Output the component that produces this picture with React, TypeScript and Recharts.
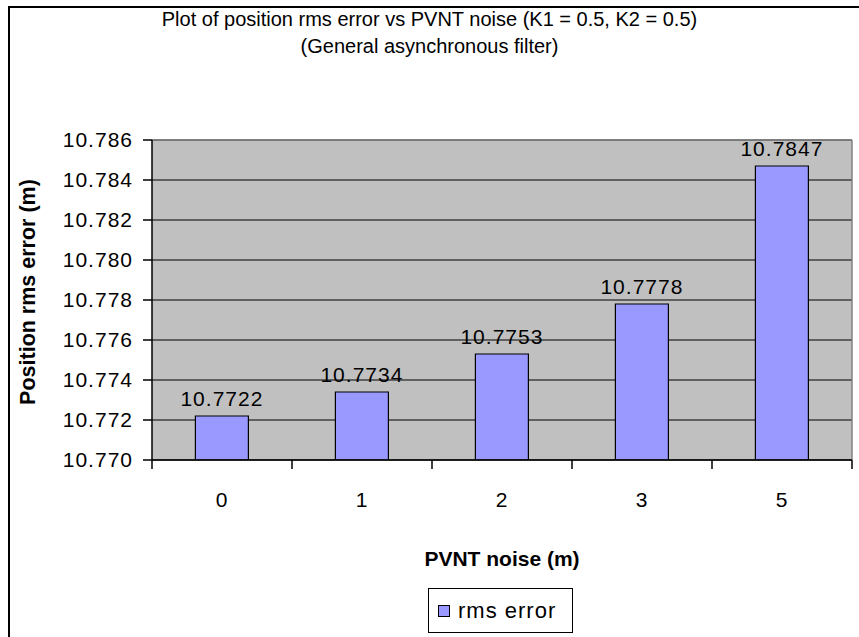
import React from 'react';
import { BarChart, Bar, XAxis, YAxis, CartesianGrid, LabelList, ReferenceLine } from 'recharts';

const categories = ['0', '1', '2', '3', '5'];
const rmsError = [10.7722, 10.7734, 10.7753, 10.7778, 10.7847];
const yTicks = [10.770, 10.772, 10.774, 10.776, 10.778, 10.780, 10.782, 10.784, 10.786];

const data = categories.map((c, i) => ({ noise: c, rms: rmsError[i] }));

const font = '"Liberation Sans", Arial, sans-serif';
const tickStyle = { fill: '#000', fontSize: 21, fontFamily: font, letterSpacing: 1 };
const LABEL_GAP = 32;

// category label plus Excel-style tick marks on the band edges
const NoiseTick = (props: any) => {
    const { x, y, payload, index, visibleTicksCount } = props;
    const half = payload.offset || 0;
    const axisY = y - LABEL_GAP;
    const isLast = index === visibleTicksCount - 1;
    return (
        <g>
            <line x1={x - half} x2={x - half} y1={axisY} y2={axisY + 9} stroke="#000" strokeWidth={1.5} />
            {isLast && <line x1={x + half} x2={x + half} y1={axisY} y2={axisY + 9} stroke="#000" strokeWidth={1.5} />}
            <text x={x} y={y} dy="0.71em" textAnchor="middle" style={tickStyle}>{payload.value}</text>
        </g>
    );
};

const LegendBox = () => (
    <div style={{ position: 'absolute', left: 428, top: 588, width: 145, height: 45, border: '1.5px solid #000', display: 'flex', alignItems: 'center', boxSizing: 'border-box', paddingLeft: 9, background: '#fff' }}>
        <span style={{ width: 12, height: 12, background: '#9999FF', border: '1px solid #000', display: 'inline-block', marginRight: 8, boxSizing: 'border-box' }}></span>
        <span style={{ fontSize: 22, color: '#000', fontFamily: font, letterSpacing: 1 }}>rms error</span>
    </div>
);

export default function App() {
    return (
        <div style={{ position: 'absolute', left: 0, top: 0, width: 859, height: 637, overflow: 'hidden', background: '#fff', fontFamily: font }}>
            <div style={{ position: 'absolute', left: 8, top: 6, width: 900, height: 700, borderLeft: '2px solid #000', borderTop: '2px solid #000' }}></div>
            <div style={{ position: 'absolute', left: 0, width: 859, top: 6, textAlign: 'center', fontSize: 20, lineHeight: '27px', color: '#000' }}>
                Plot of position rms error vs PVNT noise (K1 = 0.5, K2 = 0.5)<br />(General asynchronous filter)
            </div>
            <div style={{ position: 'absolute', left: 0, width: 1004, top: 547, textAlign: 'center', fontSize: 21, fontWeight: 'bold', color: '#000' }}>
                PVNT noise (m)
            </div>
            <div style={{ position: 'absolute', left: 28, top: 292, width: 0, height: 0 }}>
                <div style={{ position: 'absolute', left: -150, top: -13, width: 300, textAlign: 'center', fontSize: 21.5, lineHeight: '26px', fontWeight: 'bold', color: '#000', transform: 'rotate(-90deg)', whiteSpace: 'nowrap' }}>
                    Position rms error (m)
                </div>
            </div>
            <div style={{ position: 'absolute', left: 0, top: 0 }}>
                <BarChart width={859} height={637} data={data} margin={{ top: 140, right: 7, left: 72, bottom: 175 }} barCategoryGap="31%">
                    <CartesianGrid vertical={false} stroke="#000" strokeWidth={1} fill="#C0C0C0" fillOpacity={1} />
                    <XAxis dataKey="noise" height={2} tickLine={false} tickSize={0} tickMargin={LABEL_GAP} axisLine={{ stroke: '#000', strokeWidth: 1.5 }} tick={<NoiseTick />} />
                    <YAxis width={80} domain={[10.770, 10.786]} ticks={yTicks} allowDataOverflow interval={0} tickFormatter={(v: number) => v.toFixed(3)} tickSize={9} tickMargin={10} axisLine={{ stroke: '#000', strokeWidth: 1.5 }} tickLine={{ stroke: '#000', strokeWidth: 1.5 }} tick={tickStyle} />
                    <ReferenceLine x={categories[categories.length - 1]} position="end" stroke="#808080" strokeWidth={1.5} />
                    <ReferenceLine y={yTicks[yTicks.length - 1]} stroke="#808080" strokeWidth={1.5} />
                    <Bar dataKey="rms" name="rms error" fill="#9999FF" stroke="#000" strokeWidth={1.2} isAnimationActive={false}>
                        <LabelList dataKey="rms" position="top" offset={10} formatter={(v: number) => v.toFixed(4)} style={tickStyle} />
                    </Bar>
                </BarChart>
            </div>
            <LegendBox />
        </div>
    );
}
